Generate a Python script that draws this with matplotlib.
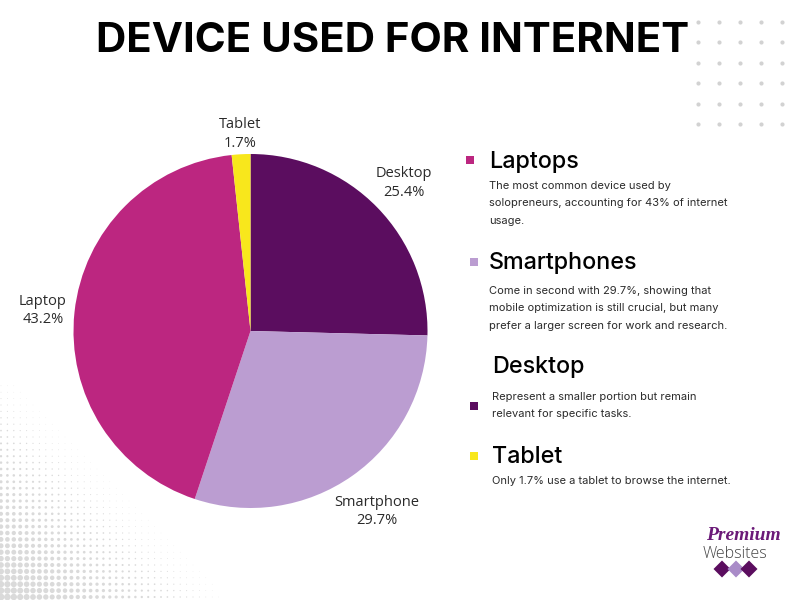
import numpy as np
import matplotlib
matplotlib.use("Agg")
import matplotlib.pyplot as plt

categories = ["Desktop", "Smartphone", "Laptop", "Tablet"]
values = [25.4, 29.7, 43.2, 1.7]
colors = ["#5B0D5F", "#BB9DD1", "#BC2680", "#F8E71C"]
label_xy = [(404, 183), (377, 511.5), (43, 310.5), (240, 134)]

title = "DEVICE USED FOR INTERNET"
sections = [
    ("Laptops", (489, 162), "#BC2680", (470, 160),
     ["The most common device used by", "solopreneurs, accounting for 43% of internet", "usage."], [186, 203, 221]),
    ("Smartphones", (489, 263), "#BB9DD1", (474, 262),
     ["Come in second with 29.7%, showing that", "mobile optimization is still crucial, but many", "prefer a larger screen for work and research."], [291, 308, 326]),
    ("Desktop", (492, 367), "#5B0D5F", (474, 406),
     ["Represent a smaller portion but remain", "relevant for specific tasks."], [397, 414]),
    ("Tablet", (492, 457), "#F8E71C", (474, 456),
     ["Only 1.7% use a tablet to browse the internet."], [481]),
]

W, H = 800, 600
fig = plt.figure(figsize=(8, 6), dpi=100, facecolor="white")

# Overlay in pixel coordinates for decoration and text
bg = fig.add_axes([0, 0, 1, 1], zorder=0)
bg.set_xlim(0, W); bg.set_ylim(H, 0); bg.axis("off")

# Top-right dot grid
gx, gy = np.meshgrid(np.linspace(698, 782, 5), np.linspace(22, 124, 6))
bg.scatter(gx.ravel(), gy.ravel(), s=9, color="#D2D2D2", linewidths=0)

# Bottom-left halftone
hx, hy = np.meshgrid(np.arange(1, 235, 6.4), np.arange(597, 380, -6.4))
fade = 1 - (hx + (597 - hy)) / 225
mask = fade > 0
radius = 3.2 * fade[mask] ** 1.25 + 0.25
bg.scatter(hx[mask], hy[mask], s=(radius * 0.72 * 2) ** 2, color="#DADADA", linewidths=0)

# Pie
cx, cy, r = 250.5, 331, 177
ax = fig.add_axes([(cx - r) / W, 1 - (cy + r) / H, 2 * r / W, 2 * r / H], zorder=1)
ax.pie(values, colors=colors, startangle=90, counterclock=False, radius=1,
       wedgeprops={"linewidth": 0})
ax.set_xlim(-1, 1); ax.set_ylim(-1, 1)

top = fig.add_axes([0, 0, 1, 1], zorder=2)
top.set_xlim(0, W); top.set_ylim(H, 0); top.axis("off"); top.patch.set_alpha(0)

top.text(393, 41, title, ha="center", va="center", fontsize=30.2, fontweight="bold",
         family="Inter", color="black")

for name, val, (x, y) in zip(categories, values, label_xy):
    top.text(x, y, f"{name}\n{val}%", ha="center", va="center", fontsize=10.5,
             family="Open Sans", color="#2A2A2A", linespacing=1.35)

for head, (hx0, hy0), col, (mx, my), lines, ys in sections:
    top.text(hx0, hy0, head, ha="left", va="center", fontsize=16.8, family="Inter",
             fontweight="medium", color="black")
    top.scatter([mx], [my], marker="s", s=26, color=col, linewidths=0)
    for ln, ly in zip(lines, ys):
        top.text(489 if hx0 < 490 else 492, ly, ln, ha="left", va="center", fontsize=8.0,
                 family="Inter", color="#2B2B2B")

# Logo
top.text(743.5, 536, "Premium", ha="center", va="center", fontsize=14, style="italic",
         fontweight="bold", family="Liberation Serif", color="#6B1A78")
top.text(735, 553.5, "Websites", ha="center", va="center", fontsize=11.5, family="Open Sans",
         fontweight="light", color="#444444")
top.scatter([722, 736, 749], [569, 569, 569], marker="D", s=75,
            color=["#5B0D5F", "#A98BC8", "#5B0D5F"], linewidths=0)

fig.savefig("out.png", dpi=100)
